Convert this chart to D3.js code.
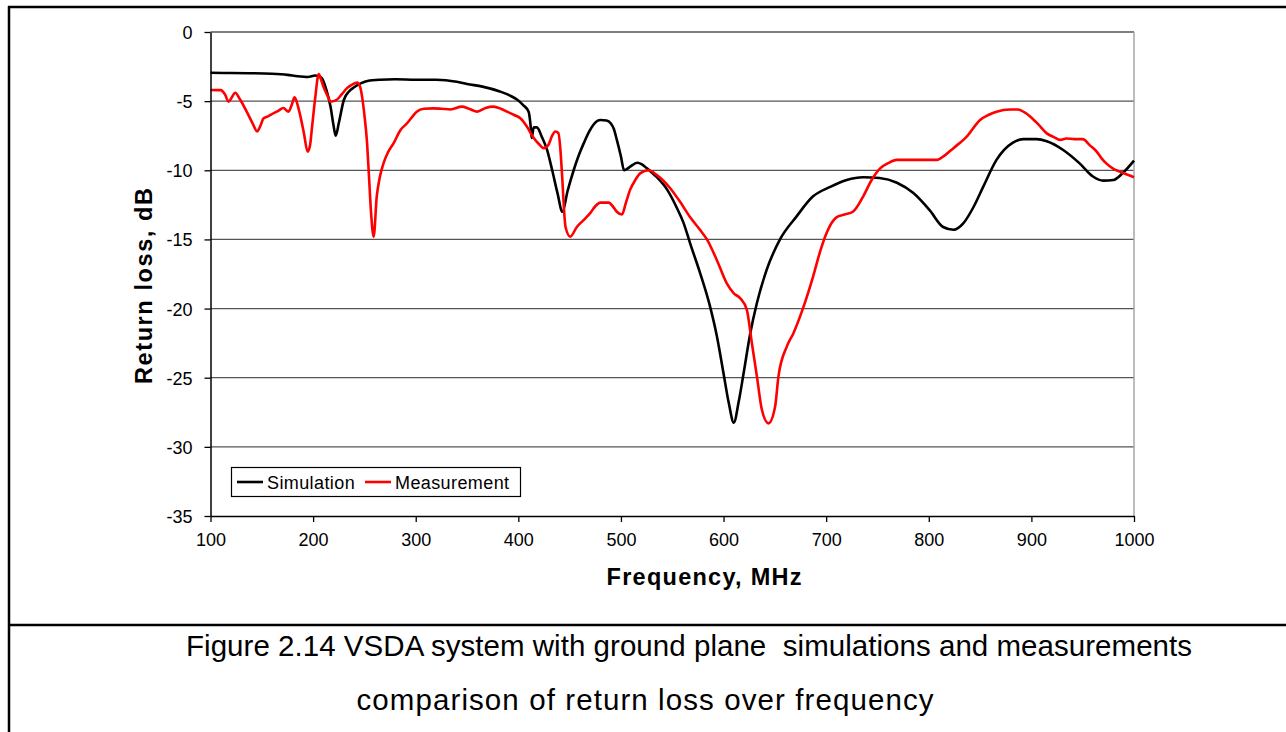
<!DOCTYPE html>
<html>
<head>
<meta charset="utf-8">
<script src="https://cdn.jsdelivr.net/npm/d3@7/dist/d3.min.js"></script>
<style>
  html, body { margin: 0; padding: 0; background: #fff; }
  svg { display: block; }
  text { font-family: "Liberation Sans", Arial, sans-serif; fill: #000; }
</style>
</head>
<body>
<svg id="chart" width="1286" height="732"></svg>
<script>
// Return loss (dB) versus frequency (MHz)
const simFreq = [100,120,140,160,175,185,195,202,208,213,217,220,222,225,230,235,240,247,253,265,280,300,320,340,350,365,382,392,399,405,410,412,413,415,418,423,428,433,438,443,448,454,459,464,469,473,480,486,490,493,496,500,503,506,509,516,520,525,535,545,555,561,567.5,577,587,593.5,600,605,610,614.6,619.5,626,632.5,642,655,671,687,704,720,736,752,769,785,801,814,824,834,844,853,866,882,892,905,915,931,947,960,970,980,989,1000];
const simDb = [-2.95,-2.97,-2.98,-3.02,-3.1,-3.2,-3.25,-3.15,-3.3,-4.2,-5.4,-6.8,-7.5,-6.6,-4.9,-4.3,-4.0,-3.7,-3.54,-3.45,-3.42,-3.45,-3.45,-3.6,-3.76,-3.95,-4.3,-4.6,-4.9,-5.3,-5.76,-6.8,-7.67,-6.9,-6.9,-7.6,-8.53,-10.0,-11.6,-13.0,-11.5,-9.98,-8.9,-8.0,-7.2,-6.72,-6.36,-6.4,-6.6,-7.0,-7.8,-9.0,-10.0,-9.9,-9.74,-9.45,-9.55,-9.84,-10.5,-11.4,-12.8,-13.8,-15.3,-17.4,-19.9,-22.0,-24.7,-26.8,-28.25,-26.8,-24.7,-21.8,-19.6,-17.2,-15.0,-13.35,-11.9,-11.2,-10.7,-10.5,-10.56,-10.9,-11.65,-12.9,-14.1,-14.3,-13.8,-12.6,-11.2,-9.25,-8.0,-7.75,-7.75,-7.9,-8.53,-9.5,-10.45,-10.75,-10.7,-10.2,-9.3];

const measFreq = [100,110,114,117.6,121,124,129,136,141,145.5,148,151.8,156,161.6,166,171,176,179,182,185,187.7,191,194.6,197,199,202,205.5,208,210,214,217,223,228,233,238,243,246,247.7,250,252.6,254.5,256.5,259,262,265,268.6,273,278.5,285,291.6,297,301,308,317,325,334,345,352,360,368,375.7,383,389,396,402,408,415,420,424.6,429,433,436,439,441,442.5,446,450.6,457,463.6,470,475,480,488,493,496,501,505,509,514,519,527,535,548,557.8,567.5,577,583.8,593.5,603.3,610,616.2,622.7,627.6,632.5,637.3,643.8,650.2,653.5,661.6,668,677.8,687.6,694,700.6,710,718,726,736,744.3,752.6,760,768.8,785,807.8,816,824,837,850,858,866,879,887,893,899,907,915,922,928,934,942,950,957,963.6,968,973,980,986,993,1000];
const measDb = [-4.19,-4.2,-4.5,-5.04,-4.7,-4.39,-4.9,-5.87,-6.6,-7.2,-6.9,-6.24,-6.1,-5.86,-5.7,-5.5,-5.76,-5.3,-4.72,-5.3,-6.12,-7.3,-8.65,-8.2,-6.85,-4.8,-3.04,-3.5,-3.95,-4.6,-5.04,-4.9,-4.5,-4.06,-3.8,-3.66,-4.0,-4.67,-6.0,-8.04,-10.5,-13.1,-14.8,-11.9,-10.5,-9.5,-8.7,-8.04,-7.1,-6.6,-6.1,-5.76,-5.55,-5.52,-5.55,-5.6,-5.4,-5.55,-5.76,-5.5,-5.4,-5.55,-5.76,-6.0,-6.24,-6.8,-7.67,-8.1,-8.4,-8.2,-7.5,-7.2,-7.3,-8.5,-10.2,-14.1,-14.8,-14.1,-13.6,-13.1,-12.6,-12.34,-12.34,-12.7,-13.0,-13.2,-12.3,-11.4,-10.7,-10.2,-10.0,-10.35,-11.3,-12.3,-13.4,-14.3,-15.0,-16.5,-18.2,-18.9,-19.25,-20.1,-22.5,-24.9,-27.3,-28.3,-27.1,-24.9,-22.75,-21.8,-19.9,-17.6,-15.9,-14.5,-13.4,-13.2,-13.0,-11.9,-10.7,-9.86,-9.5,-9.25,-9.25,-9.25,-8.9,-8.4,-7.56,-6.36,-6.0,-5.76,-5.6,-5.6,-5.8,-6.12,-6.7,-7.33,-7.6,-7.8,-7.7,-7.75,-7.75,-8.2,-8.65,-9.1,-9.5,-9.9,-10.1,-10.3,-10.5];

const seriesNames = ["Simulation", "Measurement"];
const seriesColors = ["#000000", "#ff0000"];

const xTicks = [100,200,300,400,500,600,700,800,900,1000];
const yTicks = [0,-5,-10,-15,-20,-25,-30,-35];

const xTitle = "Frequency, MHz";
const yTitle = "Return loss, dB";
const captionLines = [
  "Figure 2.14 VSDA system with ground plane  simulations and measurements",
  "comparison of return loss over frequency"
];

const series = [
  { name: seriesNames[0], color: seriesColors[0], values: simFreq.map((f, i) => [f, simDb[i]]) },
  { name: seriesNames[1], color: seriesColors[1], values: measFreq.map((f, i) => [f, measDb[i]]) }
];

const svg = d3.select("#chart");
const W = 1286, H = 732;

svg.append("rect").attr("width", W).attr("height", H).attr("fill", "#fff");

// page frame: top rule, left rule, divider above caption
const frame = svg.append("g").attr("stroke", "#000").attr("stroke-width", 2.5);
frame.append("line").attr("x1", 8).attr("x2", W).attr("y1", 7).attr("y2", 7);
frame.append("line").attr("x1", 9).attr("x2", 9).attr("y1", 6).attr("y2", H);
frame.append("line").attr("x1", 8).attr("x2", W).attr("y1", 625).attr("y2", 625);

const x = d3.scaleLinear().domain([100, 1000]).range([210.5, 1134]);
const y = d3.scaleLinear().domain([-35, 0]).range([516, 32]);

// plain hyphen for negative tick labels
const tickText = d => String(d);

// horizontal gridlines
svg.append("g")
  .selectAll("line")
  .data(yTicks.filter(v => v > -35))
  .join("line")
  .attr("x1", x(100)).attr("x2", x(1000))
  .attr("y1", d => y(d)).attr("y2", d => y(d))
  .attr("stroke", "#555").attr("stroke-width", 1.3);

// right edge of plot area
svg.append("line")
  .attr("x1", x(1000)).attr("x2", x(1000))
  .attr("y1", y(0)).attr("y2", y(-35))
  .attr("stroke", "#a6a6a6").attr("stroke-width", 1.5);

// curves
const line = d3.line()
  .x(d => x(d[0]))
  .y(d => y(d[1]))
  .curve(d3.curveMonotoneX);

svg.append("g")
  .selectAll("path")
  .data(series)
  .join("path")
  .attr("d", d => line(d.values))
  .attr("fill", "none")
  .attr("stroke", d => d.color)
  .attr("stroke-width", 2.6)
  .attr("stroke-linejoin", "round");

// axes
const yAxis = svg.append("g")
  .attr("transform", `translate(${x(100)},0)`)
  .call(d3.axisLeft(y).tickValues(yTicks).tickSize(6).tickSizeOuter(0).tickFormat(tickText));
yAxis.select(".domain").attr("stroke", "#000").attr("stroke-width", 1.5);
yAxis.selectAll(".tick line").attr("stroke", "#000").attr("stroke-width", 1.3);
yAxis.selectAll(".tick text")
  .attr("x", -18).attr("dy", "0.36em")
  .style("font-size", "18px")
  .style("font-family", "'Liberation Sans', Arial, sans-serif")
  .attr("fill", "#000");

const xAxis = svg.append("g")
  .attr("transform", `translate(0,${y(-35)})`)
  .call(d3.axisBottom(x).tickValues(xTicks).tickSize(6).tickSizeOuter(0).tickFormat(tickText));
xAxis.select(".domain").attr("stroke", "#000").attr("stroke-width", 1.5);
xAxis.selectAll(".tick line").attr("stroke", "#000").attr("stroke-width", 1.3);
xAxis.selectAll(".tick text")
  .attr("y", 30).attr("dy", 0)
  .style("font-size", "18px")
  .style("font-family", "'Liberation Sans', Arial, sans-serif")
  .attr("fill", "#000");

// axis titles
svg.append("text")
  .attr("x", 704).attr("y", 585)
  .attr("text-anchor", "middle")
  .attr("textLength", 195).attr("lengthAdjust", "spacing")
  .style("font-size", "23.5px").style("font-weight", "bold")
  .text(xTitle);

svg.append("text")
  .attr("transform", "translate(152,286) rotate(-90)")
  .attr("text-anchor", "middle")
  .attr("textLength", 196).attr("lengthAdjust", "spacing")
  .style("font-size", "23.5px").style("font-weight", "bold")
  .text(yTitle);

// legend
const legend = svg.append("g");
legend.append("rect")
  .attr("x", 231.5).attr("y", 467.5).attr("width", 289).attr("height", 29)
  .attr("fill", "#fff").attr("stroke", "#000").attr("stroke-width", 1.2);
const legendX = [237, 365];
const item = legend.selectAll("g.item")
  .data(series)
  .join("g")
  .attr("class", "item")
  .attr("transform", (d, i) => `translate(${legendX[i]},482)`);
item.append("line")
  .attr("x1", 0).attr("x2", 26).attr("y1", 0).attr("y2", 0)
  .attr("stroke", d => d.color).attr("stroke-width", 2.6);
item.append("text")
  .attr("x", 30).attr("y", 7)
  .style("font-size", "18px").style("letter-spacing", "0.4px")
  .text(d => d.name);

// caption
const captionX = [689, 645];
const captionY = [656, 710];
const captionW = [1006, 577];
svg.append("g")
  .selectAll("text")
  .data(captionLines)
  .join("text")
  .attr("x", (d, i) => captionX[i])
  .attr("y", (d, i) => captionY[i])
  .attr("text-anchor", "middle")
  .attr("textLength", (d, i) => captionW[i])
  .attr("lengthAdjust", "spacing")
  .style("font-size", "29.5px")
  .style("white-space", "pre")
  .text(d => d);
</script>
</body>
</html>
